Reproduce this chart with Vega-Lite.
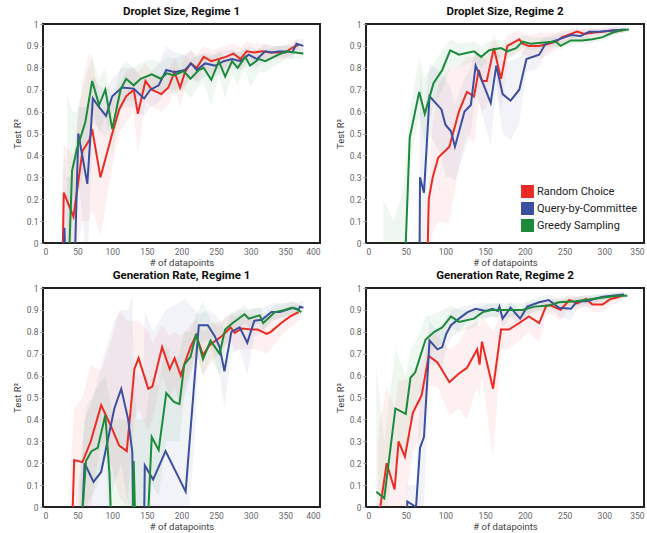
{
"$schema":"https://vega.github.io/schema/vega-lite/v6.json",
"padding":{"left":11,"top":4,"right":5,"bottom":5},
"bounds":"flush",
"columns":2,
"spacing":{"row":45,"column":46},
"datasets":{
"names":[{"s":"R","name":"Random Choice"},{"s":"Q","name":"Query-by-Committee"},{"s":"G","name":"Greedy Sampling"}],
"d":[
{"p":"A","s":"R","x":27,"y":-0.3,"l":-0.5,"h":0.2},{"p":"A","s":"R","x":30,"y":0.23,"l":-0.1,"h":0.45},{"p":"A","s":"R","x":44,"y":0.12,"l":-0.1,"h":0.4},{"p":"A","s":"R","x":57,"y":0.42,"l":0.1,"h":0.75},{"p":"A","s":"R","x":67,"y":0.47,"l":0.1,"h":0.87},{"p":"A","s":"R","x":71,"y":0.52,"l":0.15,"h":0.85},{"p":"A","s":"R","x":83,"y":0.3,"l":0.03,"h":0.6},{"p":"A","s":"R","x":100,"y":0.5,"l":0.35,"h":0.65},{"p":"A","s":"R","x":110,"y":0.61,"l":0.5,"h":0.72},{"p":"A","s":"R","x":120,"y":0.67,"l":0.55,"h":0.78},{"p":"A","s":"R","x":131,"y":0.7,"l":0.6,"h":0.8},{"p":"A","s":"R","x":137,"y":0.59,"l":0.4,"h":0.78},{"p":"A","s":"R","x":148,"y":0.74,"l":0.65,"h":0.82},{"p":"A","s":"R","x":157,"y":0.7,"l":0.62,"h":0.78},{"p":"A","s":"R","x":171,"y":0.68,"l":0.6,"h":0.76},{"p":"A","s":"R","x":181,"y":0.71,"l":0.63,"h":0.79},{"p":"A","s":"R","x":190,"y":0.78,"l":0.7,"h":0.85},{"p":"A","s":"R","x":198,"y":0.71,"l":0.62,"h":0.79},{"p":"A","s":"R","x":205,"y":0.78,"l":0.7,"h":0.85},{"p":"A","s":"R","x":213,"y":0.82,"l":0.76,"h":0.88},{"p":"A","s":"R","x":222,"y":0.8,"l":0.74,"h":0.86},{"p":"A","s":"R","x":232,"y":0.85,"l":0.8,"h":0.9},{"p":"A","s":"R","x":243,"y":0.83,"l":0.77,"h":0.88},{"p":"A","s":"R","x":254,"y":0.84,"l":0.79,"h":0.89},{"p":"A","s":"R","x":264,"y":0.85,"l":0.8,"h":0.9},{"p":"A","s":"R","x":275,"y":0.865,"l":0.82,"h":0.91},{"p":"A","s":"R","x":285,"y":0.84,"l":0.79,"h":0.89},{"p":"A","s":"R","x":294,"y":0.875,"l":0.83,"h":0.92},{"p":"A","s":"R","x":305,"y":0.87,"l":0.83,"h":0.91},{"p":"A","s":"R","x":317,"y":0.875,"l":0.84,"h":0.91},{"p":"A","s":"R","x":328,"y":0.87,"l":0.84,"h":0.9},{"p":"A","s":"R","x":340,"y":0.87,"l":0.84,"h":0.9},{"p":"A","s":"R","x":350,"y":0.87,"l":0.84,"h":0.9},{"p":"A","s":"R","x":359,"y":0.89,"l":0.86,"h":0.92},{"p":"A","s":"R","x":369,"y":0.905,"l":0.88,"h":0.93},
{"p":"A","s":"Q","x":29,"y":-0.3,"l":-0.5,"h":0.3},{"p":"A","s":"Q","x":31,"y":0.07,"l":-0.3,"h":0.4},{"p":"A","s":"Q","x":34,"y":-0.3,"l":-0.5,"h":0.3},{"p":"A","s":"Q","x":44,"y":-0.3,"l":-0.5,"h":0.3},{"p":"A","s":"Q","x":51,"y":0.5,"l":0.3,"h":0.62},{"p":"A","s":"Q","x":64,"y":0.27,"l":-0.1,"h":0.62},{"p":"A","s":"Q","x":72,"y":0.66,"l":0.55,"h":0.76},{"p":"A","s":"Q","x":81,"y":0.62,"l":0.52,"h":0.72},{"p":"A","s":"Q","x":91,"y":0.58,"l":0.48,"h":0.7},{"p":"A","s":"Q","x":100,"y":0.67,"l":0.6,"h":0.75},{"p":"A","s":"Q","x":114,"y":0.71,"l":0.62,"h":0.8},{"p":"A","s":"Q","x":131,"y":0.705,"l":0.62,"h":0.8},{"p":"A","s":"Q","x":146,"y":0.66,"l":0.58,"h":0.74},{"p":"A","s":"Q","x":155,"y":0.7,"l":0.62,"h":0.78},{"p":"A","s":"Q","x":167,"y":0.72,"l":0.64,"h":0.82},{"p":"A","s":"Q","x":178,"y":0.79,"l":0.7,"h":0.9},{"p":"A","s":"Q","x":190,"y":0.78,"l":0.7,"h":0.87},{"p":"A","s":"Q","x":205,"y":0.79,"l":0.72,"h":0.86},{"p":"A","s":"Q","x":214,"y":0.82,"l":0.76,"h":0.88},{"p":"A","s":"Q","x":222,"y":0.79,"l":0.73,"h":0.85},{"p":"A","s":"Q","x":234,"y":0.82,"l":0.76,"h":0.87},{"p":"A","s":"Q","x":249,"y":0.81,"l":0.76,"h":0.86},{"p":"A","s":"Q","x":261,"y":0.83,"l":0.78,"h":0.88},{"p":"A","s":"Q","x":273,"y":0.84,"l":0.8,"h":0.88},{"p":"A","s":"Q","x":285,"y":0.83,"l":0.79,"h":0.87},{"p":"A","s":"Q","x":297,"y":0.86,"l":0.82,"h":0.9},{"p":"A","s":"Q","x":309,"y":0.84,"l":0.8,"h":0.88},{"p":"A","s":"Q","x":321,"y":0.875,"l":0.84,"h":0.91},{"p":"A","s":"Q","x":330,"y":0.87,"l":0.84,"h":0.9},{"p":"A","s":"Q","x":340,"y":0.875,"l":0.85,"h":0.9},{"p":"A","s":"Q","x":352,"y":0.875,"l":0.85,"h":0.9},{"p":"A","s":"Q","x":360,"y":0.87,"l":0.84,"h":0.9},{"p":"A","s":"Q","x":366,"y":0.91,"l":0.88,"h":0.93},{"p":"A","s":"Q","x":376,"y":0.9,"l":0.87,"h":0.93},
{"p":"A","s":"G","x":35,"y":-0.3,"l":-0.5,"h":0.68},{"p":"A","s":"G","x":42,"y":0.33,"l":0.1,"h":0.6},{"p":"A","s":"G","x":49,"y":0.43,"l":0.2,"h":0.6},{"p":"A","s":"G","x":61,"y":0.55,"l":0.35,"h":0.75},{"p":"A","s":"G","x":71,"y":0.74,"l":0.6,"h":0.85},{"p":"A","s":"G","x":81,"y":0.63,"l":0.5,"h":0.75},{"p":"A","s":"G","x":90,"y":0.7,"l":0.58,"h":0.8},{"p":"A","s":"G","x":100,"y":0.52,"l":0.4,"h":0.65},{"p":"A","s":"G","x":112,"y":0.7,"l":0.6,"h":0.8},{"p":"A","s":"G","x":120,"y":0.75,"l":0.65,"h":0.83},{"p":"A","s":"G","x":131,"y":0.72,"l":0.65,"h":0.8},{"p":"A","s":"G","x":141,"y":0.75,"l":0.68,"h":0.82},{"p":"A","s":"G","x":157,"y":0.77,"l":0.7,"h":0.84},{"p":"A","s":"G","x":170,"y":0.75,"l":0.68,"h":0.82},{"p":"A","s":"G","x":179,"y":0.775,"l":0.7,"h":0.85},{"p":"A","s":"G","x":189,"y":0.765,"l":0.68,"h":0.84},{"p":"A","s":"G","x":203,"y":0.785,"l":0.7,"h":0.86},{"p":"A","s":"G","x":213,"y":0.75,"l":0.66,"h":0.84},{"p":"A","s":"G","x":225,"y":0.79,"l":0.72,"h":0.86},{"p":"A","s":"G","x":232,"y":0.8,"l":0.73,"h":0.86},{"p":"A","s":"G","x":243,"y":0.745,"l":0.63,"h":0.85},{"p":"A","s":"G","x":254,"y":0.83,"l":0.77,"h":0.88},{"p":"A","s":"G","x":263,"y":0.76,"l":0.66,"h":0.84},{"p":"A","s":"G","x":273,"y":0.83,"l":0.77,"h":0.88},{"p":"A","s":"G","x":281,"y":0.8,"l":0.72,"h":0.87},{"p":"A","s":"G","x":292,"y":0.85,"l":0.8,"h":0.89},{"p":"A","s":"G","x":299,"y":0.81,"l":0.71,"h":0.87},{"p":"A","s":"G","x":312,"y":0.84,"l":0.78,"h":0.89},{"p":"A","s":"G","x":321,"y":0.83,"l":0.78,"h":0.88},{"p":"A","s":"G","x":340,"y":0.86,"l":0.82,"h":0.9},{"p":"A","s":"G","x":352,"y":0.875,"l":0.84,"h":0.91},{"p":"A","s":"G","x":364,"y":0.87,"l":0.84,"h":0.9},{"p":"A","s":"G","x":376,"y":0.865,"l":0.84,"h":0.89},
{"p":"B","s":"R","x":76,"y":-0.3,"l":-0.5,"h":0.1},{"p":"B","s":"R","x":79,"y":0.2,"l":-0.1,"h":0.3},{"p":"B","s":"R","x":84,"y":0.3,"l":0.05,"h":0.55},{"p":"B","s":"R","x":91,"y":0.39,"l":0.1,"h":0.72},{"p":"B","s":"R","x":105,"y":0.44,"l":0.09,"h":0.8},{"p":"B","s":"R","x":117,"y":0.6,"l":0.35,"h":0.8},{"p":"B","s":"R","x":127,"y":0.69,"l":0.5,"h":0.85},{"p":"B","s":"R","x":136,"y":0.67,"l":0.45,"h":0.85},{"p":"B","s":"R","x":142,"y":0.79,"l":0.65,"h":0.88},{"p":"B","s":"R","x":146,"y":0.74,"l":0.6,"h":0.85},{"p":"B","s":"R","x":152,"y":0.74,"l":0.62,"h":0.85},{"p":"B","s":"R","x":161,"y":0.89,"l":0.8,"h":0.95},{"p":"B","s":"R","x":170,"y":0.75,"l":0.6,"h":0.88},{"p":"B","s":"R","x":178,"y":0.9,"l":0.84,"h":0.95},{"p":"B","s":"R","x":193,"y":0.93,"l":0.88,"h":0.97},{"p":"B","s":"R","x":197,"y":0.91,"l":0.86,"h":0.96},{"p":"B","s":"R","x":205,"y":0.9,"l":0.85,"h":0.95},{"p":"B","s":"R","x":218,"y":0.9,"l":0.84,"h":0.96},{"p":"B","s":"R","x":230,"y":0.91,"l":0.86,"h":0.96},{"p":"B","s":"R","x":239,"y":0.92,"l":0.88,"h":0.96},{"p":"B","s":"R","x":247,"y":0.94,"l":0.91,"h":0.97},{"p":"B","s":"R","x":258,"y":0.955,"l":0.93,"h":0.98},{"p":"B","s":"R","x":266,"y":0.965,"l":0.94,"h":0.98},{"p":"B","s":"R","x":275,"y":0.955,"l":0.93,"h":0.98},{"p":"B","s":"R","x":285,"y":0.96,"l":0.94,"h":0.98},{"p":"B","s":"R","x":298,"y":0.965,"l":0.95,"h":0.98},{"p":"B","s":"R","x":310,"y":0.97,"l":0.95,"h":0.985},{"p":"B","s":"R","x":323,"y":0.97,"l":0.96,"h":0.985},
{"p":"B","s":"Q","x":67,"y":-0.3,"l":-0.5,"h":0.1},{"p":"B","s":"Q","x":68,"y":0.3,"l":-0.2,"h":0.8},{"p":"B","s":"Q","x":73,"y":0.23,"l":-0.1,"h":0.6},{"p":"B","s":"Q","x":80,"y":0.67,"l":0.5,"h":0.82},{"p":"B","s":"Q","x":95,"y":0.61,"l":0.4,"h":0.78},{"p":"B","s":"Q","x":100,"y":0.54,"l":0.3,"h":0.75},{"p":"B","s":"Q","x":107,"y":0.51,"l":0.3,"h":0.7},{"p":"B","s":"Q","x":112,"y":0.44,"l":0.28,"h":0.63},{"p":"B","s":"Q","x":124,"y":0.6,"l":0.42,"h":0.75},{"p":"B","s":"Q","x":132,"y":0.63,"l":0.5,"h":0.8},{"p":"B","s":"Q","x":138,"y":0.81,"l":0.7,"h":0.88},{"p":"B","s":"Q","x":145,"y":0.75,"l":0.6,"h":0.85},{"p":"B","s":"Q","x":157,"y":0.64,"l":0.45,"h":0.82},{"p":"B","s":"Q","x":164,"y":0.81,"l":0.7,"h":0.9},{"p":"B","s":"Q","x":172,"y":0.68,"l":0.5,"h":0.83},{"p":"B","s":"Q","x":182,"y":0.65,"l":0.47,"h":0.83},{"p":"B","s":"Q","x":193,"y":0.7,"l":0.55,"h":0.85},{"p":"B","s":"Q","x":202,"y":0.84,"l":0.78,"h":0.9},{"p":"B","s":"Q","x":218,"y":0.86,"l":0.8,"h":0.92},{"p":"B","s":"Q","x":226,"y":0.91,"l":0.87,"h":0.94},{"p":"B","s":"Q","x":243,"y":0.93,"l":0.9,"h":0.96},{"p":"B","s":"Q","x":258,"y":0.95,"l":0.93,"h":0.97},{"p":"B","s":"Q","x":270,"y":0.945,"l":0.92,"h":0.97},{"p":"B","s":"Q","x":281,"y":0.965,"l":0.95,"h":0.98},{"p":"B","s":"Q","x":293,"y":0.965,"l":0.95,"h":0.98},{"p":"B","s":"Q","x":310,"y":0.97,"l":0.955,"h":0.985},{"p":"B","s":"Q","x":327,"y":0.975,"l":0.96,"h":0.99},
{"p":"B","s":"G","x":22,"y":-0.3,"l":-0.5,"h":0.2},{"p":"B","s":"G","x":35,"y":-0.3,"l":-0.5,"h":0.1},{"p":"B","s":"G","x":47,"y":-0.3,"l":-0.5,"h":0.25},{"p":"B","s":"G","x":55,"y":0.48,"l":0.35,"h":0.6},{"p":"B","s":"G","x":67,"y":0.69,"l":0.58,"h":0.85},{"p":"B","s":"G","x":74,"y":0.59,"l":0.45,"h":0.75},{"p":"B","s":"G","x":85,"y":0.73,"l":0.63,"h":0.82},{"p":"B","s":"G","x":96,"y":0.79,"l":0.7,"h":0.88},{"p":"B","s":"G","x":106,"y":0.88,"l":0.8,"h":0.93},{"p":"B","s":"G","x":117,"y":0.86,"l":0.8,"h":0.91},{"p":"B","s":"G","x":136,"y":0.875,"l":0.83,"h":0.92},{"p":"B","s":"G","x":145,"y":0.85,"l":0.8,"h":0.9},{"p":"B","s":"G","x":155,"y":0.88,"l":0.84,"h":0.92},{"p":"B","s":"G","x":170,"y":0.89,"l":0.85,"h":0.93},{"p":"B","s":"G","x":178,"y":0.875,"l":0.84,"h":0.91},{"p":"B","s":"G","x":189,"y":0.89,"l":0.86,"h":0.92},{"p":"B","s":"G","x":197,"y":0.92,"l":0.89,"h":0.95},{"p":"B","s":"G","x":207,"y":0.91,"l":0.88,"h":0.94},{"p":"B","s":"G","x":224,"y":0.915,"l":0.89,"h":0.94},{"p":"B","s":"G","x":239,"y":0.92,"l":0.9,"h":0.94},{"p":"B","s":"G","x":245,"y":0.9,"l":0.88,"h":0.92},{"p":"B","s":"G","x":258,"y":0.925,"l":0.91,"h":0.94},{"p":"B","s":"G","x":272,"y":0.925,"l":0.91,"h":0.94},{"p":"B","s":"G","x":285,"y":0.93,"l":0.915,"h":0.945},{"p":"B","s":"G","x":298,"y":0.94,"l":0.925,"h":0.955},{"p":"B","s":"G","x":310,"y":0.96,"l":0.945,"h":0.975},{"p":"B","s":"G","x":320,"y":0.97,"l":0.96,"h":0.98},{"p":"B","s":"G","x":331,"y":0.975,"l":0.965,"h":0.985},
{"p":"C","s":"R","x":40,"y":-0.3,"l":-0.5,"h":0.2},{"p":"C","s":"R","x":45,"y":0.215,"l":-0.2,"h":0.45},{"p":"C","s":"R","x":57,"y":0.205,"l":-0.1,"h":0.5},{"p":"C","s":"R","x":69,"y":0.3,"l":0.0,"h":0.65},{"p":"C","s":"R","x":84,"y":0.465,"l":0.3,"h":0.62},{"p":"C","s":"R","x":98,"y":0.37,"l":0.2,"h":0.75},{"p":"C","s":"R","x":110,"y":0.28,"l":0.05,"h":0.9},{"p":"C","s":"R","x":121,"y":0.255,"l":0.0,"h":0.85},{"p":"C","s":"R","x":132,"y":0.63,"l":0.4,"h":0.85},{"p":"C","s":"R","x":138,"y":0.68,"l":0.45,"h":0.85},{"p":"C","s":"R","x":152,"y":0.54,"l":0.35,"h":0.8},{"p":"C","s":"R","x":158,"y":0.55,"l":0.4,"h":0.75},{"p":"C","s":"R","x":172,"y":0.73,"l":0.6,"h":0.83},{"p":"C","s":"R","x":183,"y":0.63,"l":0.5,"h":0.78},{"p":"C","s":"R","x":190,"y":0.68,"l":0.55,"h":0.8},{"p":"C","s":"R","x":199,"y":0.6,"l":0.45,"h":0.78},{"p":"C","s":"R","x":205,"y":0.66,"l":0.55,"h":0.8},{"p":"C","s":"R","x":213,"y":0.73,"l":0.62,"h":0.83},{"p":"C","s":"R","x":221,"y":0.785,"l":0.7,"h":0.86},{"p":"C","s":"R","x":231,"y":0.695,"l":0.6,"h":0.8},{"p":"C","s":"R","x":241,"y":0.74,"l":0.65,"h":0.83},{"p":"C","s":"R","x":258,"y":0.78,"l":0.72,"h":0.85},{"p":"C","s":"R","x":271,"y":0.82,"l":0.76,"h":0.88},{"p":"C","s":"R","x":277,"y":0.795,"l":0.72,"h":0.87},{"p":"C","s":"R","x":287,"y":0.815,"l":0.72,"h":0.88},{"p":"C","s":"R","x":301,"y":0.81,"l":0.72,"h":0.88},{"p":"C","s":"R","x":310,"y":0.81,"l":0.72,"h":0.88},{"p":"C","s":"R","x":323,"y":0.79,"l":0.7,"h":0.87},{"p":"C","s":"R","x":329,"y":0.8,"l":0.72,"h":0.88},{"p":"C","s":"R","x":344,"y":0.84,"l":0.78,"h":0.9},{"p":"C","s":"R","x":357,"y":0.87,"l":0.82,"h":0.92},{"p":"C","s":"R","x":369,"y":0.89,"l":0.85,"h":0.93},
{"p":"C","s":"Q","x":53,"y":-0.3,"l":-0.5,"h":0.1},{"p":"C","s":"Q","x":60,"y":0.2,"l":-0.1,"h":0.4},{"p":"C","s":"Q","x":73,"y":0.115,"l":-0.1,"h":0.5},{"p":"C","s":"Q","x":84,"y":0.16,"l":-0.1,"h":0.65},{"p":"C","s":"Q","x":103,"y":0.45,"l":0.1,"h":0.85},{"p":"C","s":"Q","x":113,"y":0.54,"l":0.2,"h":0.9},{"p":"C","s":"Q","x":123,"y":0.4,"l":0.0,"h":0.9},{"p":"C","s":"Q","x":129,"y":0.25,"l":-0.1,"h":0.97},{"p":"C","s":"Q","x":131,"y":-0.3,"l":-0.5,"h":0.6},{"p":"C","s":"Q","x":145,"y":-0.3,"l":-0.5,"h":0.6},{"p":"C","s":"Q","x":147,"y":0.19,"l":-0.1,"h":0.9},{"p":"C","s":"Q","x":159,"y":0.125,"l":-0.1,"h":0.8},{"p":"C","s":"Q","x":177,"y":0.255,"l":-0.05,"h":0.9},{"p":"C","s":"Q","x":206,"y":0.07,"l":-0.2,"h":0.95},{"p":"C","s":"Q","x":219,"y":0.59,"l":0.3,"h":0.9},{"p":"C","s":"Q","x":225,"y":0.83,"l":0.75,"h":0.88},{"p":"C","s":"Q","x":238,"y":0.83,"l":0.76,"h":0.9},{"p":"C","s":"Q","x":248,"y":0.78,"l":0.68,"h":0.88},{"p":"C","s":"Q","x":255,"y":0.73,"l":0.6,"h":0.86},{"p":"C","s":"Q","x":262,"y":0.62,"l":0.45,"h":0.8},{"p":"C","s":"Q","x":272,"y":0.8,"l":0.7,"h":0.88},{"p":"C","s":"Q","x":284,"y":0.82,"l":0.72,"h":0.9},{"p":"C","s":"Q","x":295,"y":0.75,"l":0.6,"h":0.9},{"p":"C","s":"Q","x":305,"y":0.85,"l":0.78,"h":0.91},{"p":"C","s":"Q","x":316,"y":0.855,"l":0.8,"h":0.91},{"p":"C","s":"Q","x":330,"y":0.89,"l":0.85,"h":0.93},{"p":"C","s":"Q","x":342,"y":0.89,"l":0.86,"h":0.93},{"p":"C","s":"Q","x":352,"y":0.9,"l":0.87,"h":0.93},{"p":"C","s":"Q","x":361,"y":0.91,"l":0.88,"h":0.94},{"p":"C","s":"Q","x":369,"y":0.9,"l":0.87,"h":0.93},{"p":"C","s":"Q","x":371,"y":0.915,"l":0.89,"h":0.94},{"p":"C","s":"Q","x":376,"y":0.91,"l":0.88,"h":0.94},
{"p":"C","s":"G","x":51,"y":-0.3,"l":-0.5,"h":0.1},{"p":"C","s":"G","x":62,"y":0.21,"l":0.0,"h":0.45},{"p":"C","s":"G","x":70,"y":0.255,"l":0.05,"h":0.5},{"p":"C","s":"G","x":79,"y":0.27,"l":0.1,"h":0.55},{"p":"C","s":"G","x":90,"y":0.42,"l":0.25,"h":0.6},{"p":"C","s":"G","x":96,"y":0.15,"l":-0.1,"h":0.5},{"p":"C","s":"G","x":101,"y":-0.3,"l":-0.5,"h":0.4},{"p":"C","s":"G","x":128,"y":-0.3,"l":-0.5,"h":0.4},{"p":"C","s":"G","x":131,"y":0.21,"l":-0.1,"h":0.6},{"p":"C","s":"G","x":135,"y":-0.3,"l":-0.5,"h":0.4},{"p":"C","s":"G","x":148,"y":-0.3,"l":-0.5,"h":0.4},{"p":"C","s":"G","x":157,"y":0.32,"l":0.1,"h":0.6},{"p":"C","s":"G","x":167,"y":0.26,"l":0.05,"h":0.55},{"p":"C","s":"G","x":178,"y":0.52,"l":0.3,"h":0.75},{"p":"C","s":"G","x":189,"y":0.48,"l":0.3,"h":0.65},{"p":"C","s":"G","x":197,"y":0.47,"l":0.3,"h":0.7},{"p":"C","s":"G","x":204,"y":0.65,"l":0.5,"h":0.8},{"p":"C","s":"G","x":213,"y":0.685,"l":0.6,"h":0.8},{"p":"C","s":"G","x":221,"y":0.79,"l":0.7,"h":0.88},{"p":"C","s":"G","x":231,"y":0.675,"l":0.6,"h":0.94},{"p":"C","s":"G","x":242,"y":0.76,"l":0.68,"h":0.85},{"p":"C","s":"G","x":255,"y":0.7,"l":0.6,"h":0.82},{"p":"C","s":"G","x":263,"y":0.81,"l":0.74,"h":0.87},{"p":"C","s":"G","x":274,"y":0.84,"l":0.79,"h":0.89},{"p":"C","s":"G","x":291,"y":0.88,"l":0.84,"h":0.92},{"p":"C","s":"G","x":297,"y":0.86,"l":0.82,"h":0.9},{"p":"C","s":"G","x":313,"y":0.875,"l":0.84,"h":0.91},{"p":"C","s":"G","x":318,"y":0.84,"l":0.8,"h":0.88},{"p":"C","s":"G","x":335,"y":0.89,"l":0.86,"h":0.92},{"p":"C","s":"G","x":349,"y":0.9,"l":0.87,"h":0.93},{"p":"C","s":"G","x":359,"y":0.91,"l":0.88,"h":0.94},{"p":"C","s":"G","x":366,"y":0.905,"l":0.88,"h":0.93},{"p":"C","s":"G","x":373,"y":0.89,"l":0.86,"h":0.92},
{"p":"D","s":"R","x":15,"y":-0.3,"l":-0.5,"h":0.3},{"p":"D","s":"R","x":18,"y":0.0,"l":-0.2,"h":0.4},{"p":"D","s":"R","x":26,"y":0.2,"l":-0.1,"h":0.55},{"p":"D","s":"R","x":36,"y":0.08,"l":-0.1,"h":0.45},{"p":"D","s":"R","x":41,"y":0.3,"l":0.0,"h":0.58},{"p":"D","s":"R","x":49,"y":0.23,"l":0.0,"h":0.58},{"p":"D","s":"R","x":59,"y":0.43,"l":0.25,"h":0.6},{"p":"D","s":"R","x":70,"y":0.51,"l":0.33,"h":0.65},{"p":"D","s":"R","x":79,"y":0.69,"l":0.55,"h":0.8},{"p":"D","s":"R","x":90,"y":0.66,"l":0.55,"h":0.78},{"p":"D","s":"R","x":105,"y":0.57,"l":0.42,"h":0.72},{"p":"D","s":"R","x":117,"y":0.61,"l":0.45,"h":0.75},{"p":"D","s":"R","x":127,"y":0.635,"l":0.4,"h":0.82},{"p":"D","s":"R","x":140,"y":0.72,"l":0.55,"h":0.85},{"p":"D","s":"R","x":143,"y":0.65,"l":0.5,"h":0.82},{"p":"D","s":"R","x":146,"y":0.755,"l":0.6,"h":0.87},{"p":"D","s":"R","x":160,"y":0.54,"l":0.22,"h":0.8},{"p":"D","s":"R","x":170,"y":0.81,"l":0.72,"h":0.88},{"p":"D","s":"R","x":180,"y":0.81,"l":0.72,"h":0.88},{"p":"D","s":"R","x":193,"y":0.84,"l":0.76,"h":0.9},{"p":"D","s":"R","x":205,"y":0.87,"l":0.8,"h":0.92},{"p":"D","s":"R","x":218,"y":0.84,"l":0.75,"h":0.92},{"p":"D","s":"R","x":227,"y":0.92,"l":0.88,"h":0.95},{"p":"D","s":"R","x":233,"y":0.92,"l":0.88,"h":0.95},{"p":"D","s":"R","x":245,"y":0.9,"l":0.85,"h":0.94},{"p":"D","s":"R","x":256,"y":0.945,"l":0.91,"h":0.97},{"p":"D","s":"R","x":266,"y":0.93,"l":0.9,"h":0.96},{"p":"D","s":"R","x":277,"y":0.95,"l":0.92,"h":0.97},{"p":"D","s":"R","x":285,"y":0.925,"l":0.89,"h":0.96},{"p":"D","s":"R","x":298,"y":0.925,"l":0.89,"h":0.96},{"p":"D","s":"R","x":308,"y":0.95,"l":0.92,"h":0.97},{"p":"D","s":"R","x":315,"y":0.955,"l":0.93,"h":0.975},{"p":"D","s":"R","x":323,"y":0.965,"l":0.94,"h":0.98},
{"p":"D","s":"Q","x":50,"y":-0.3,"l":-0.5,"h":0.0},{"p":"D","s":"Q","x":52,"y":0.025,"l":-0.2,"h":0.1},{"p":"D","s":"Q","x":63,"y":0.0,"l":-0.2,"h":0.1},{"p":"D","s":"Q","x":68,"y":0.27,"l":0.0,"h":0.55},{"p":"D","s":"Q","x":73,"y":0.32,"l":0.0,"h":0.6},{"p":"D","s":"Q","x":80,"y":0.76,"l":0.65,"h":0.85},{"p":"D","s":"Q","x":90,"y":0.72,"l":0.65,"h":0.8},{"p":"D","s":"Q","x":96,"y":0.73,"l":0.65,"h":0.82},{"p":"D","s":"Q","x":101,"y":0.79,"l":0.72,"h":0.86},{"p":"D","s":"Q","x":107,"y":0.83,"l":0.77,"h":0.9},{"p":"D","s":"Q","x":117,"y":0.86,"l":0.8,"h":0.91},{"p":"D","s":"Q","x":128,"y":0.89,"l":0.85,"h":0.92},{"p":"D","s":"Q","x":138,"y":0.905,"l":0.87,"h":0.93},{"p":"D","s":"Q","x":151,"y":0.895,"l":0.86,"h":0.93},{"p":"D","s":"Q","x":159,"y":0.905,"l":0.87,"h":0.93},{"p":"D","s":"Q","x":166,"y":0.895,"l":0.86,"h":0.93},{"p":"D","s":"Q","x":168,"y":0.915,"l":0.88,"h":0.94},{"p":"D","s":"Q","x":172,"y":0.86,"l":0.82,"h":0.9},{"p":"D","s":"Q","x":182,"y":0.91,"l":0.87,"h":0.94},{"p":"D","s":"Q","x":194,"y":0.86,"l":0.82,"h":0.9},{"p":"D","s":"Q","x":203,"y":0.915,"l":0.88,"h":0.94},{"p":"D","s":"Q","x":218,"y":0.935,"l":0.9,"h":0.96},{"p":"D","s":"Q","x":230,"y":0.945,"l":0.92,"h":0.97},{"p":"D","s":"Q","x":243,"y":0.91,"l":0.87,"h":0.95},{"p":"D","s":"Q","x":258,"y":0.905,"l":0.85,"h":0.95},{"p":"D","s":"Q","x":266,"y":0.94,"l":0.91,"h":0.96},{"p":"D","s":"Q","x":277,"y":0.94,"l":0.91,"h":0.96},{"p":"D","s":"Q","x":298,"y":0.96,"l":0.94,"h":0.975},{"p":"D","s":"Q","x":310,"y":0.965,"l":0.95,"h":0.98},{"p":"D","s":"Q","x":325,"y":0.97,"l":0.955,"h":0.985},
{"p":"D","s":"G","x":13,"y":0.07,"l":-0.1,"h":0.65},{"p":"D","s":"G","x":23,"y":0.04,"l":-0.05,"h":0.3},{"p":"D","s":"G","x":37,"y":0.45,"l":0.2,"h":0.72},{"p":"D","s":"G","x":50,"y":0.425,"l":0.25,"h":0.6},{"p":"D","s":"G","x":56,"y":0.59,"l":0.4,"h":0.72},{"p":"D","s":"G","x":62,"y":0.615,"l":0.45,"h":0.75},{"p":"D","s":"G","x":75,"y":0.765,"l":0.65,"h":0.87},{"p":"D","s":"G","x":86,"y":0.8,"l":0.72,"h":0.88},{"p":"D","s":"G","x":96,"y":0.82,"l":0.75,"h":0.9},{"p":"D","s":"G","x":107,"y":0.87,"l":0.82,"h":0.92},{"p":"D","s":"G","x":117,"y":0.845,"l":0.8,"h":0.9},{"p":"D","s":"G","x":136,"y":0.86,"l":0.82,"h":0.9},{"p":"D","s":"G","x":147,"y":0.89,"l":0.86,"h":0.92},{"p":"D","s":"G","x":159,"y":0.9,"l":0.87,"h":0.93},{"p":"D","s":"G","x":174,"y":0.9,"l":0.87,"h":0.93},{"p":"D","s":"G","x":197,"y":0.9,"l":0.87,"h":0.93},{"p":"D","s":"G","x":212,"y":0.915,"l":0.89,"h":0.94},{"p":"D","s":"G","x":230,"y":0.92,"l":0.9,"h":0.94},{"p":"D","s":"G","x":243,"y":0.935,"l":0.915,"h":0.955},{"p":"D","s":"G","x":264,"y":0.94,"l":0.92,"h":0.96},{"p":"D","s":"G","x":285,"y":0.95,"l":0.93,"h":0.97},{"p":"D","s":"G","x":306,"y":0.96,"l":0.945,"h":0.975},{"p":"D","s":"G","x":318,"y":0.965,"l":0.95,"h":0.98},{"p":"D","s":"G","x":329,"y":0.965,"l":0.95,"h":0.98}
]},
"resolve":{"scale":{"x":"independent","y":"independent"},"legend":{"color":"independent"}},
"concat":[
{"width":277,"height":219,"title":"Droplet Size, Regime 1","data":{"name":"d"},
 "transform":[{"filter":"datum.p=='A'"},{"lookup":"s","from":{"data":{"name":"names"},"key":"s","fields":["name"]}}],
 "encoding":{
  "x":{"field":"x","type":"quantitative","scale":{"domain":[0,400],"nice":false},"axis":{"values":[0,50,100,150,200,250,300,350,400],"title":"# of datapoints"}},
  "color":{"field":"name","type":"nominal","scale":{"domain":["Random Choice","Query-by-Committee","Greedy Sampling"],"range":["#ee2a24","#3b4fa0","#1b8a3a"]},"legend":null}},
 "layer":[
  {"mark":{"type":"area","opacity":0.07,"clip":true},"encoding":{"y":{"field":"l","type":"quantitative","scale":{"domain":[0,1],"nice":false},"axis":{"values":[0,0.1,0.2,0.3,0.4,0.5,0.6,0.7,0.8,0.9,1],"format":"~g","title":"Test R²"}},"y2":{"field":"h"}}},
  {"mark":{"type":"line","strokeWidth":2,"clip":true},"encoding":{"y":{"field":"y","type":"quantitative","axis":{"values":[0,0.1,0.2,0.3,0.4,0.5,0.6,0.7,0.8,0.9,1],"format":"~g","title":"Test R²"}}}}
 ]},
{"width":278,"height":219,"title":"Droplet Size, Regime 2","data":{"name":"d"},
 "transform":[{"filter":"datum.p=='B'"},{"lookup":"s","from":{"data":{"name":"names"},"key":"s","fields":["name"]}}],
 "encoding":{
  "x":{"field":"x","type":"quantitative","scale":{"domain":[0,350],"nice":false},"axis":{"values":[0,50,100,150,200,250,300,350],"title":"# of datapoints"}}},
 "layer":[
  {"mark":{"type":"area","opacity":0.07,"clip":true},"encoding":{"y":{"field":"l","type":"quantitative","scale":{"domain":[0,1],"nice":false},"axis":{"values":[0,0.1,0.2,0.3,0.4,0.5,0.6,0.7,0.8,0.9,1],"format":"~g","title":"Test R²"}},"y2":{"field":"h"},
   "color":{"field":"name","type":"nominal","scale":{"domain":["Random Choice","Query-by-Committee","Greedy Sampling"],"range":["#ee2a24","#3b4fa0","#1b8a3a"]},"legend":{"title":null,"orient":"none","legendX":155,"legendY":161,"symbolType":"square","symbolSize":130,"symbolOpacity":1,"symbolStrokeColor":"#222","symbolStrokeWidth":1.5,"labelFont":"Roboto","labelFontSize":11,"labelColor":"#222","labelOffset":3,"rowPadding":-2}}}},
  {"mark":{"type":"line","strokeWidth":2,"clip":true},"encoding":{"y":{"field":"y","type":"quantitative","axis":{"values":[0,0.1,0.2,0.3,0.4,0.5,0.6,0.7,0.8,0.9,1],"format":"~g","title":"Test R²"}},"color":{"field":"name","type":"nominal","legend":null}}}
 ]},
{"width":277,"height":219,"title":"Generation Rate, Regime 1","data":{"name":"d"},
 "transform":[{"filter":"datum.p=='C'"},{"lookup":"s","from":{"data":{"name":"names"},"key":"s","fields":["name"]}}],
 "encoding":{
  "x":{"field":"x","type":"quantitative","scale":{"domain":[0,400],"nice":false},"axis":{"values":[0,50,100,150,200,250,300,350,400],"title":"# of datapoints"}},
  "color":{"field":"name","type":"nominal","scale":{"domain":["Random Choice","Query-by-Committee","Greedy Sampling"],"range":["#ee2a24","#3b4fa0","#1b8a3a"]},"legend":null}},
 "layer":[
  {"mark":{"type":"area","opacity":0.07,"clip":true},"encoding":{"y":{"field":"l","type":"quantitative","scale":{"domain":[0,1],"nice":false},"axis":{"values":[0,0.1,0.2,0.3,0.4,0.5,0.6,0.7,0.8,0.9,1],"format":"~g","title":"Test R²"}},"y2":{"field":"h"}}},
  {"mark":{"type":"line","strokeWidth":2,"clip":true},"encoding":{"y":{"field":"y","type":"quantitative","axis":{"values":[0,0.1,0.2,0.3,0.4,0.5,0.6,0.7,0.8,0.9,1],"format":"~g","title":"Test R²"}}}}
 ]},
{"width":278,"height":219,"title":"Generation Rate, Regime 2","data":{"name":"d"},
 "transform":[{"filter":"datum.p=='D'"},{"lookup":"s","from":{"data":{"name":"names"},"key":"s","fields":["name"]}}],
 "encoding":{
  "x":{"field":"x","type":"quantitative","scale":{"domain":[0,350],"nice":false},"axis":{"values":[0,50,100,150,200,250,300,350],"title":"# of datapoints"}},
  "color":{"field":"name","type":"nominal","scale":{"domain":["Random Choice","Query-by-Committee","Greedy Sampling"],"range":["#ee2a24","#3b4fa0","#1b8a3a"]},"legend":null}},
 "layer":[
  {"mark":{"type":"area","opacity":0.07,"clip":true},"encoding":{"y":{"field":"l","type":"quantitative","scale":{"domain":[0,1],"nice":false},"axis":{"values":[0,0.1,0.2,0.3,0.4,0.5,0.6,0.7,0.8,0.9,1],"format":"~g","title":"Test R²"}},"y2":{"field":"h"}}},
  {"mark":{"type":"line","strokeWidth":2,"clip":true},"encoding":{"y":{"field":"y","type":"quantitative","axis":{"values":[0,0.1,0.2,0.3,0.4,0.5,0.6,0.7,0.8,0.9,1],"format":"~g","title":"Test R²"}}}}
 ]}
],
"config":{
 "view":{"stroke":"#222","strokeWidth":2},
 "axis":{"grid":false,"domain":false,"labelOverlap":false,"labelFont":"Roboto","labelFontSize":8.5,"labelColor":"#666","tickColor":"#999","tickSize":3,"labelPadding":2,"titleFont":"Roboto","titleFontSize":9.5,"titleFontWeight":"normal","titleColor":"#444","titlePadding":2},
 "axisX":{"ticks":false,"labelPadding":4},
 "axisY":{"titlePadding":4},
 "title":{"font":"Roboto","fontSize":11.5,"fontWeight":"bold","color":"#111","offset":3}
}
}
